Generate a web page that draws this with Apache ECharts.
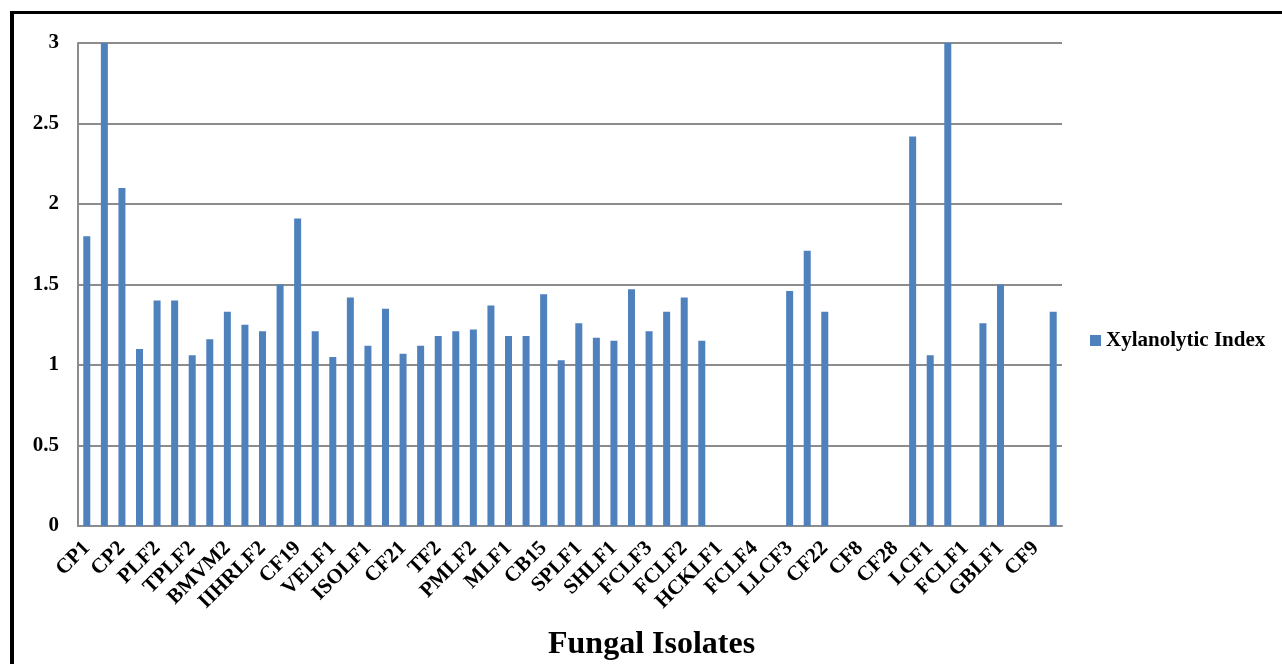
<!DOCTYPE html>
<html>
<head>
<meta charset="utf-8">
<title>Xylanolytic Index of Fungal Isolates</title>
<script src="https://cdn.jsdelivr.net/npm/echarts@6/dist/echarts.min.js"></script>
<style>
  html, body { margin: 0; padding: 0; background: #ffffff; }
  #chart { width: 1282px; height: 664px; }
</style>
</head>
<body>
<div id="chart"></div>
<script>
// Isolate names; only every other isolate carries a printed label on the axis
const isolates = [
  'CP1', '', 'CP2', '', 'PLF2', '', 'TPLF2', '', 'BMVM2', '', 'IIHRLF2', '',
  'CF19', '', 'VELF1', '', 'ISOLF1', '', 'CF21', '', 'TF2', '', 'PMLF2', '',
  'MLF1', '', 'CB15', '', 'SPLF1', '', 'SHLF1', '', 'FCLF3', '', 'FCLF2', '',
  'HCKLF1', '', 'FCLF4', '', 'LLCF3', '', 'CF22', '', 'CF8', '', 'CF28', '',
  'LCF1', '', 'FCLF1', '', 'GBLF1', '', 'CF9', ''
];

// Xylanolytic index for each isolate
const xylanolyticIndex = [
  1.80, 3.00, 2.10, 1.10, 1.40, 1.40, 1.06, 1.16, 1.33, 1.25, 1.21, 1.50,
  1.91, 1.21, 1.05, 1.42, 1.12, 1.35, 1.07, 1.12, 1.18, 1.21, 1.22, 1.37,
  1.18, 1.18, 1.44, 1.03, 1.26, 1.17, 1.15, 1.47, 1.21, 1.33, 1.42, 1.15,
  0, 0, 0, 0, 1.46, 1.71, 1.33, 0, 0, 0, 0, 2.42,
  1.06, 3.00, 0, 1.26, 1.50, 0, 0, 1.33
];

const seriesName = 'Xylanolytic Index';
const axisTitle = 'Fungal Isolates';
const yMin = 0, yMax = 3, yStep = 0.5;

const serif = '"Liberation Serif", "Times New Roman", serif';
const gridGray = '#8c8c8c';

const chart = echarts.init(document.getElementById('chart'), null, { renderer: 'canvas' });

chart.setOption({
  animation: false,
  backgroundColor: '#ffffff',
  grid: { left: 78, right: 220, top: 43, bottom: 138, containLabel: false },
  title: {
    text: axisTitle,
    left: 548,
    top: 629,
    padding: 0,
    textStyle: { fontFamily: serif, fontWeight: 'bold', fontSize: 32, color: '#000000' }
  },
  legend: {
    data: [seriesName],
    left: 1090,
    top: 330,
    padding: 0,
    itemWidth: 11,
    itemHeight: 11,
    icon: 'rect',
    textStyle: { fontFamily: serif, fontWeight: 'bold', fontSize: 21, color: '#000000' }
  },
  xAxis: {
    type: 'category',
    data: isolates,
    boundaryGap: true,
    axisLine: { show: true, lineStyle: { color: gridGray, width: 2 } },
    axisTick: { show: false },
    axisLabel: {
      interval: 1,
      rotate: 45,
      margin: 19,
      fontFamily: serif,
      fontWeight: 'bold',
      fontSize: 21,
      color: '#000000'
    },
    splitLine: { show: false }
  },
  yAxis: {
    type: 'value',
    min: yMin,
    max: yMax,
    interval: yStep,
    axisLine: { show: true, lineStyle: { color: gridGray, width: 2 } },
    axisTick: { show: false },
    axisLabel: {
      margin: 19,
      fontFamily: serif,
      fontWeight: 'bold',
      fontSize: 21,
      color: '#000000'
    },
    splitLine: { show: true, lineStyle: { color: gridGray, width: 2 } }
  },
  series: [{
    name: seriesName,
    type: 'bar',
    data: xylanolyticIndex,
    barWidth: 7,
    itemStyle: { color: '#4f81bd' }
  }],
  graphic: [
    // outer frame: heavy left rule and top rule
    { type: 'rect', left: 10, top: 11, shape: { width: 4, height: 660 }, style: { fill: '#000000' }, silent: true },
    { type: 'rect', left: 10, top: 11, shape: { width: 1280, height: 3 }, style: { fill: '#000000' }, silent: true }
  ]
});
</script>
</body>
</html>
